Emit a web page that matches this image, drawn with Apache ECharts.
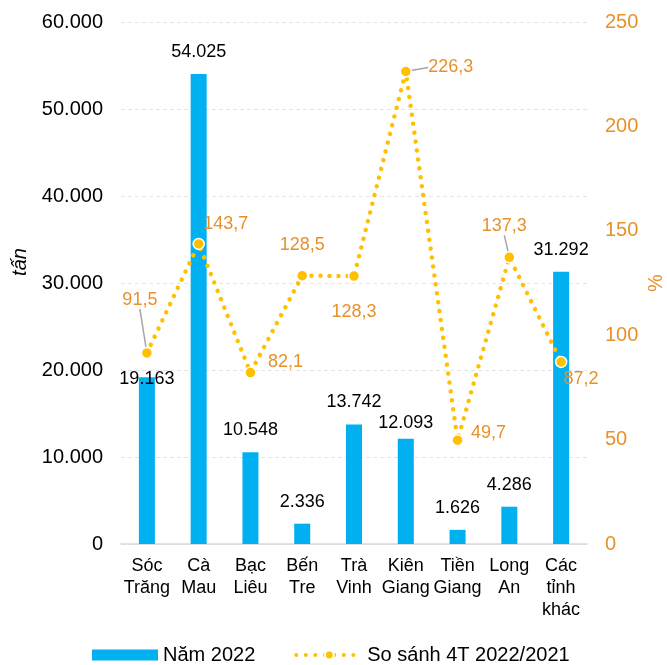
<!DOCTYPE html>
<html>
<head>
<meta charset="utf-8">
<script src="https://cdn.jsdelivr.net/npm/echarts@6/dist/echarts.min.js"></script>
<style>html,body{margin:0;padding:0;background:#fff}#c{width:667px;height:665px}</style>
</head>
<body>
<div id="c"></div>
<script>
const categories = ['Sóc\nTrăng', 'Cà\nMau', 'Bạc\nLiêu', 'Bến\nTre', 'Trà\nVinh', 'Kiên\nGiang', 'Tiền\nGiang', 'Long\nAn', 'Các\ntỉnh\nkhác'];
const tonnes2022 = [19163, 54025, 10548, 2336, 13742, 12093, 1626, 4286, 31292];
const compare4T = [91.5, 143.7, 82.1, 128.5, 128.3, 226.3, 49.7, 137.3, 87.2];
const leftTicks = [0, 10000, 20000, 30000, 40000, 50000, 60000];
const rightTicks = [0, 50, 100, 150, 200, 250];
const seriesNames = ['Năm 2022', 'So sánh 4T 2022/2021'];

const FONT = '"Liberation Sans", Arial, sans-serif';
const ORANGE = '#E8902A';
const YELLOW = '#FFC000';
const BLUE = '#00B0F0';

const fmtThousands = v => String(v).replace(/\B(?=(\d{3})+(?!\d))/g, '.');
const fmtComma = v => v.toFixed(1).replace('.', ',');

// label placement tweaks (presentation only)
const barLabelOffset = [[0, 24], [0, 0], [0, 0], [0, 0], [0, 0], [0, 6], [0, 0], [0, 0], [0, 0]];
const lineLabelShift = [[-7, -53], [27, -20], [35, -11], [0, -31], [0, 36], [45, -4], [31, -7], [-5, -31], [20, 17]];
const lineLabelGuide = [true, false, false, false, false, true, false, true, false];

const chart = echarts.init(document.getElementById('c'), null, {renderer: 'canvas'});
chart.setOption({
  animation: false,
  textStyle: {fontFamily: FONT},
  grid: {left: 121, right: 80, top: 22, bottom: 121, containLabel: false},
  legend: {
    top: 640, left: 87,
    itemWidth: 66, itemHeight: 11, itemGap: 39,
    textStyle: {fontFamily: FONT, fontSize: 20, color: '#000'},
    data: [
      {name: seriesNames[0], icon: 'rect'},
      {name: seriesNames[1], lineStyle: {width: 4, type: [0.01, 9.5], cap: 'round', color: YELLOW}}
    ]
  },
  xAxis: {
    type: 'category',
    data: categories,
    axisLine: {lineStyle: {color: '#D9D9D9', width: 1.5}},
    axisTick: {show: false},
    axisLabel: {fontFamily: FONT, fontSize: 18, color: '#000', lineHeight: 22, margin: 11, interval: 0}
  },
  yAxis: [{
    type: 'value', min: 0, max: 60000, interval: 10000,
    axisLine: {show: false}, axisTick: {show: false},
    axisLabel: {fontFamily: FONT, fontSize: 20, color: '#000', margin: 18, formatter: v => fmtThousands(v)},
    splitLine: {lineStyle: {color: '#E4E4E4', type: [4, 3]}}
  }, {
    type: 'value', min: 0, max: 250, interval: 50,
    axisLine: {show: false}, axisTick: {show: false},
    axisLabel: {fontFamily: FONT, fontSize: 20, color: ORANGE, margin: 18},
    splitLine: {show: false}
  }],
  graphic: [
    {type: 'text', x: 20, y: 262, rotation: Math.PI / 2,
     style: {text: 'tấn', font: 'italic 20px ' + FONT, fill: '#000', textAlign: 'center', textVerticalAlign: 'middle'}},
    {type: 'text', x: 656, y: 283, rotation: Math.PI / 2,
     style: {text: '%', font: '20px ' + FONT, fill: ORANGE, textAlign: 'center', textVerticalAlign: 'middle'}}
  ],
  series: [{
    name: seriesNames[0],
    type: 'bar',
    yAxisIndex: 0,
    barWidth: 16,
    itemStyle: {color: BLUE},
    data: tonnes2022.map((v, i) => ({
      value: v,
      label: {offset: barLabelOffset[i]}
    })),
    label: {
      show: true, position: 'top', distance: 13,
      fontFamily: FONT, fontSize: 18, color: '#000',
      formatter: p => fmtThousands(p.value)
    },
    z: 1
  }, {
    name: seriesNames[1],
    type: 'line',
    yAxisIndex: 1,
    symbol: 'circle',
    symbolSize: 11,
    itemStyle: {color: YELLOW, borderColor: '#fff', borderWidth: 1.5},
    lineStyle: {color: YELLOW, width: 4.5, type: [0.01, 9], cap: 'round'},
    data: compare4T.map((v, i) => ({
      value: v,
      labelLine: {show: lineLabelGuide[i]}
    })),
    label: {
      show: true, position: 'inside',
      fontFamily: FONT, fontSize: 18, color: ORANGE,
      formatter: p => fmtComma(p.value)
    },
    labelLine: {show: false, lineStyle: {color: '#A6A6A6', width: 1.5}},
    labelLayout: p => ({dx: lineLabelShift[p.dataIndex][0], dy: lineLabelShift[p.dataIndex][1]}),
    z: 3
  }]
});
</script>
</body>
</html>
